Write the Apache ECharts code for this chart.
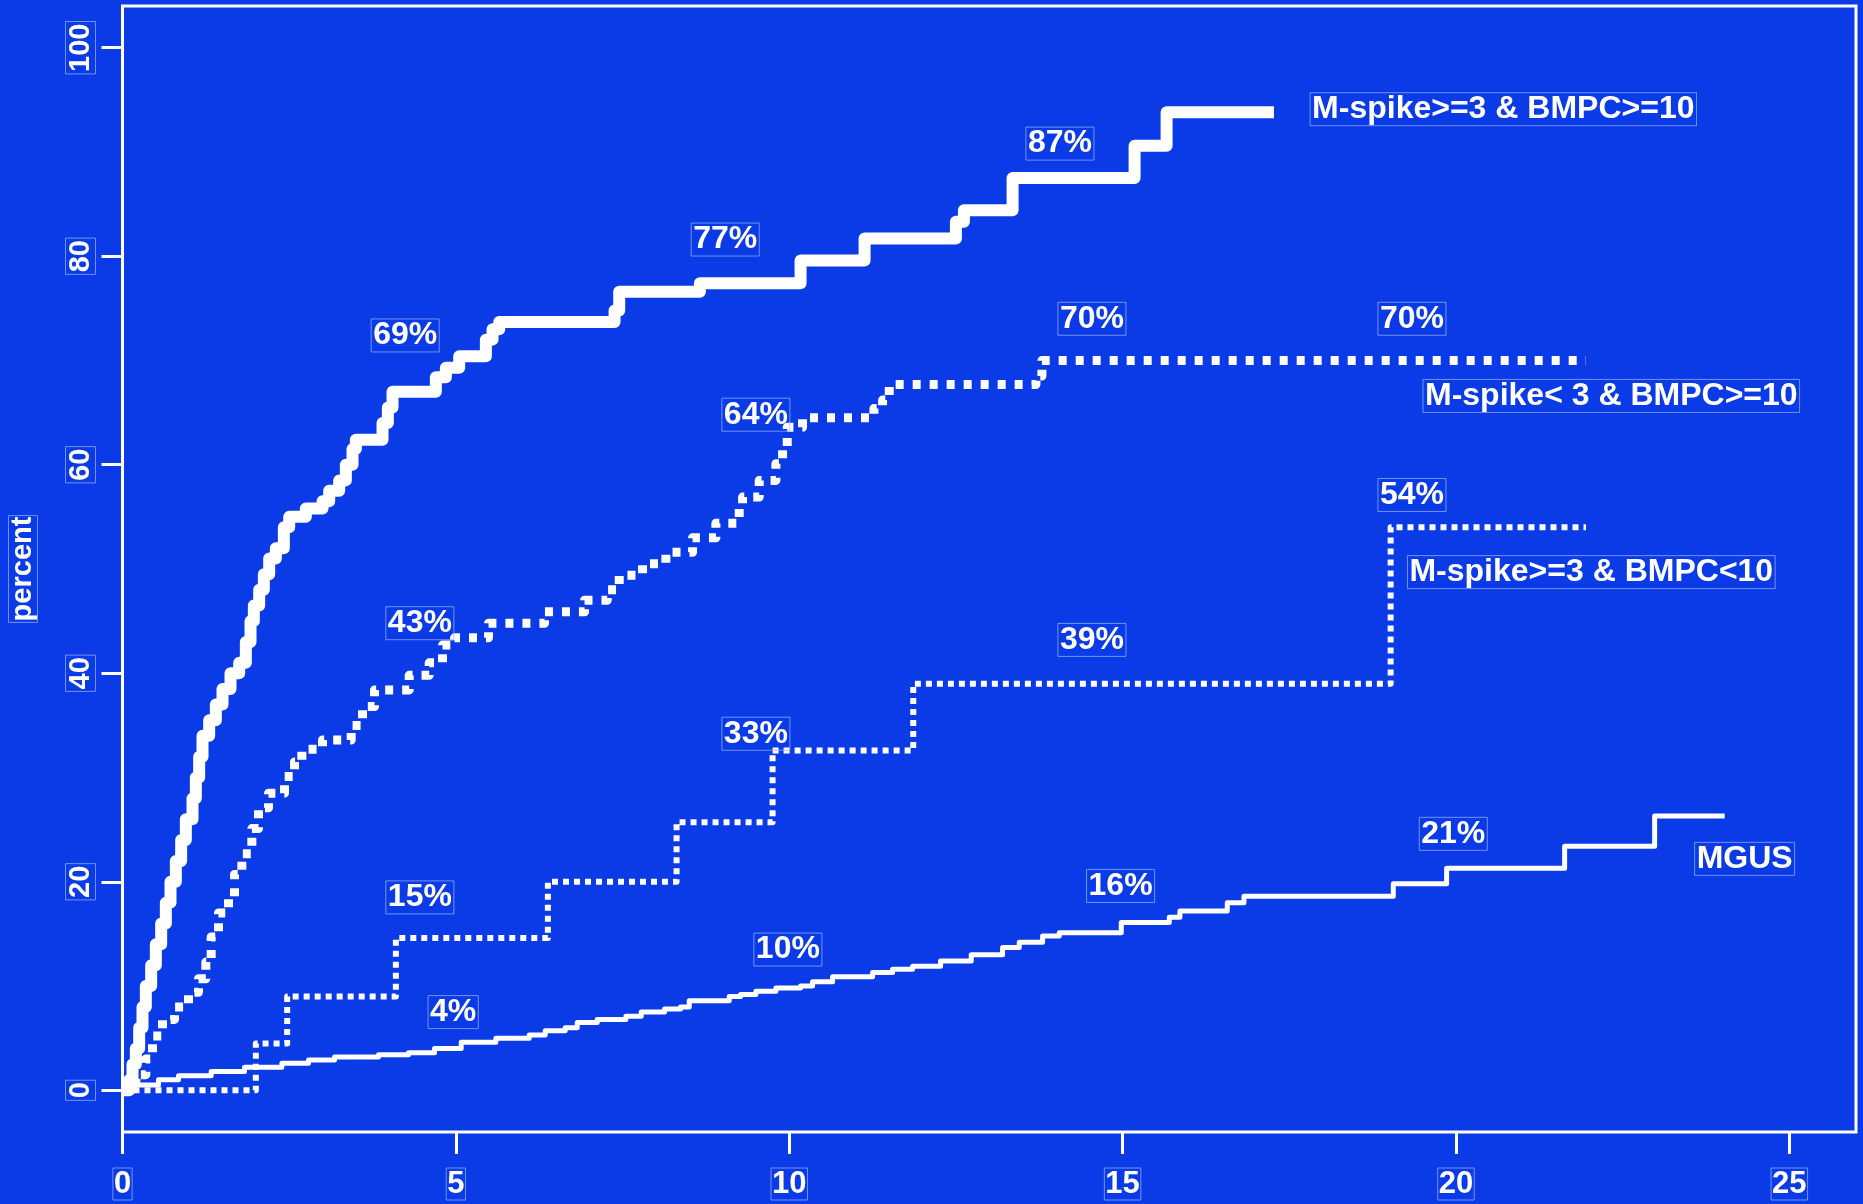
<!DOCTYPE html>
<html>
<head>
<meta charset="utf-8">
<title>Cumulative progression by risk group</title>
<script src="https://cdn.jsdelivr.net/npm/echarts@6/dist/echarts.min.js"></script>
<style>
  html, body { margin: 0; padding: 0; background: #0a3be6; }
  #chart { width: 1863px; height: 1204px; }
</style>
</head>
<body>
<div id="chart"></div>
<script>
// Cumulative percent progressed, [years, percent] at each event time
const highBoth = [
  [0, 0], [0.1, 1], [0.15, 2.5], [0.2, 4], [0.25, 6], [0.3, 8], [0.35, 10], [0.43, 12],
  [0.5, 14], [0.58, 16], [0.65, 18], [0.72, 20], [0.8, 22], [0.88, 24], [0.95, 26],
  [1.05, 28], [1.1, 30], [1.15, 32], [1.2, 34], [1.3, 35.5], [1.4, 37], [1.5, 38.5],
  [1.62, 40], [1.75, 41], [1.85, 43], [1.92, 45], [1.97, 46.5], [2.05, 48], [2.12, 49.5],
  [2.2, 51], [2.3, 52], [2.42, 54], [2.5, 55], [2.75, 55.8], [3.0, 56.5], [3.1, 57.5],
  [3.25, 58.5], [3.35, 60], [3.45, 61.5], [3.5, 62.4], [3.9, 64], [3.98, 65.5], [4.05, 67],
  [4.7, 68.4], [4.85, 69.3], [5.05, 70.4], [5.45, 72], [5.55, 73], [5.65, 73.7], [7.38, 74.8],
  [7.45, 76.6], [8.66, 77.4], [10.17, 79.6], [11.13, 81.7], [12.5, 83.3], [12.62, 84.4],
  [13.35, 87.5], [15.18, 90.6], [15.66, 93.8], [17.27, 93.8]
];
const lowSpikeHighPC = [
  [0, 0], [0.2, 1.5], [0.35, 3], [0.45, 5.2], [0.6, 6.8], [0.78, 8], [0.99, 9.4], [1.14, 10.7],
  [1.25, 12.3], [1.33, 14.7], [1.44, 17], [1.59, 18.6], [1.68, 20.7], [1.79, 22.7], [1.94, 25.1],
  [2.04, 27.1], [2.19, 28.5], [2.43, 30.1], [2.58, 31.5], [2.69, 32.7], [3.0, 33.6], [3.43, 35],
  [3.6, 36.8], [3.78, 38.4], [4.3, 39.8], [4.6, 41], [4.8, 42.7], [4.98, 43.4], [5.49, 44.8],
  [6.33, 45.9], [6.93, 47], [7.27, 48], [7.45, 49.4], [7.8, 50.5], [8.15, 51.6], [8.55, 53],
  [8.9, 54.4], [9.25, 55.8], [9.3, 56.9], [9.55, 58.5], [9.8, 60.1], [9.9, 61.7], [9.97, 63.6],
  [10.2, 64.5], [11.27, 65.4], [11.4, 66.2], [11.5, 67.7], [13.7, 68.5], [13.79, 70], [21.95, 70]
];
const highSpikeLowPC = [
  [0, 0], [2.0, 4.5], [2.47, 9.0], [4.1, 14.6], [6.38, 20.0], [8.31, 25.7], [9.75, 32.6],
  [11.86, 39], [19.02, 54], [21.95, 54]
];
const mgus = [
  [0, 0], [0.18, 0.5], [0.54, 1.0], [0.84, 1.4], [1.33, 1.8], [1.83, 2.2], [2.39, 2.6],
  [2.79, 2.9], [3.18, 3.2], [3.84, 3.4], [4.29, 3.6], [4.68, 4.0], [5.08, 4.6], [5.6, 5.0],
  [6.1, 5.3], [6.34, 5.7], [6.64, 6.0], [6.82, 6.5], [7.12, 6.8], [7.55, 7.1], [7.78, 7.5],
  [8.13, 7.8], [8.37, 8.0], [8.5, 8.6], [9.1, 9.0], [9.27, 9.2], [9.5, 9.5], [9.8, 9.8],
  [10.17, 10.0], [10.35, 10.4], [10.65, 10.9], [11.25, 11.3], [11.55, 11.6], [11.85, 11.9],
  [12.27, 12.4], [12.73, 13.0], [13.2, 13.7], [13.45, 14.2], [13.8, 14.8], [14.05, 15.1],
  [14.98, 16.1], [15.7, 16.6], [15.86, 17.2], [16.57, 18.0], [16.82, 18.6], [19.06, 19.8],
  [19.86, 21.3], [21.63, 23.4], [22.98, 26.3], [24.03, 26.3]
];

// Text annotations: percent at 5/10/15/20 years and group names
const noteText = [
  '69%', '77%', '87%',
  '43%', '64%', '70%', '70%',
  '15%', '33%', '39%', '54%',
  '4%', '10%', '16%', '21%',
  'M-spike>=3 & BMPC>=10', 'M-spike< 3 & BMPC>=10', 'M-spike>=3 & BMPC<10', 'MGUS'
];
const noteX = [
  4.24, 9.04, 14.06,
  4.46, 9.5, 14.54, 19.34,
  4.46, 9.5, 14.54, 19.34,
  4.96, 9.98, 14.97, 19.96,
  20.71, 22.33, 22.03, 24.33
];
const noteY = [
  72.4, 81.6, 90.8,
  44.8, 64.8, 74.0, 74.0,
  18.5, 34.2, 43.2, 57.1,
  7.5, 13.5, 19.6, 24.6,
  94.1, 66.6, 49.7, 22.2
];

const xTicks = [0, 5, 10, 15, 20, 25];
const yTicks = [0, 20, 40, 60, 80, 100];

const BG = '#0a3be6';
const WHITE = '#ffffff';
const BOX = 'rgba(150,175,255,0.75)';
const FONT = '"Liberation Sans", Arial, sans-serif';

const notes = noteText.map((t, i) => ({ value: [noteX[i], noteY[i]], name: t }));

function curve(name, data, width, dash) {
  return {
    name: name,
    type: 'line',
    step: 'end',
    data: data,
    showSymbol: false,
    symbol: 'none',
    lineStyle: { color: WHITE, width: width, type: dash || 'solid', cap: 'butt', join: 'round' },
    z: 3
  };
}

const chart = echarts.init(document.getElementById('chart'), null, { renderer: 'canvas' });
chart.setOption({
  backgroundColor: BG,
  animation: false,
  grid: {
    left: 121, right: 7, top: 6, bottom: 72,
    show: true, borderColor: WHITE, borderWidth: 3, backgroundColor: 'transparent'
  },
  xAxis: {
    type: 'value', min: 0, max: 26,
    axisLine: { show: false, onZero: false },
    splitLine: { show: false },
    axisTick: { show: true, customValues: xTicks, length: 22, lineStyle: { color: WHITE, width: 3 } },
    axisLabel: {
      customValues: xTicks, margin: 36, color: WHITE,
      fontFamily: FONT, fontWeight: 'bold', fontSize: 31,
      borderColor: BOX, borderWidth: 1, padding: [1, 1, 0, 1]
    }
  },
  yAxis: {
    type: 'value', min: -4, max: 104,
    name: 'percent', nameLocation: 'middle', nameGap: 85, nameRotate: 90,
    nameTextStyle: {
      color: WHITE, fontFamily: FONT, fontWeight: 'bold', fontSize: 29,
      borderColor: BOX, borderWidth: 1, padding: [0, 1, 0, 1]
    },
    axisLine: { show: false, onZero: false },
    splitLine: { show: false },
    axisTick: { show: true, customValues: yTicks, length: 21, lineStyle: { color: WHITE, width: 3 } },
    axisLabel: {
      customValues: yTicks, rotate: 90, margin: 27, color: WHITE,
      fontFamily: FONT, fontWeight: 'bold', fontSize: 29,
      borderColor: BOX, borderWidth: 1, padding: [1, 2, 0, 2]
    }
  },
  series: [
    curve('M-spike>=3 & BMPC>=10', highBoth, 12),
    curve('M-spike< 3 & BMPC>=10', lowSpikeHighPC, 9, [8, 9]),
    curve('M-spike>=3 & BMPC<10', highSpikeLowPC, 6, [6, 5]),
    curve('MGUS', mgus, 5),
    {
      name: 'notes',
      type: 'scatter',
      data: notes,
      symbolSize: 0,
      itemStyle: { opacity: 1, color: WHITE },
      z: 5,
      label: {
        show: true,
        position: 'inside',
        formatter: p => p.name,
        color: WHITE,
        opacity: 1,
        textBorderWidth: 0,
        textBorderColor: 'transparent',
        fontFamily: FONT,
        fontWeight: 'bold',
        fontSize: 32,
        borderColor: BOX,
        borderWidth: 1,
        padding: [1, 2, 0, 2]
      },
      emphasis: { disabled: true }
    }
  ]
});
</script>
</body>
</html>
